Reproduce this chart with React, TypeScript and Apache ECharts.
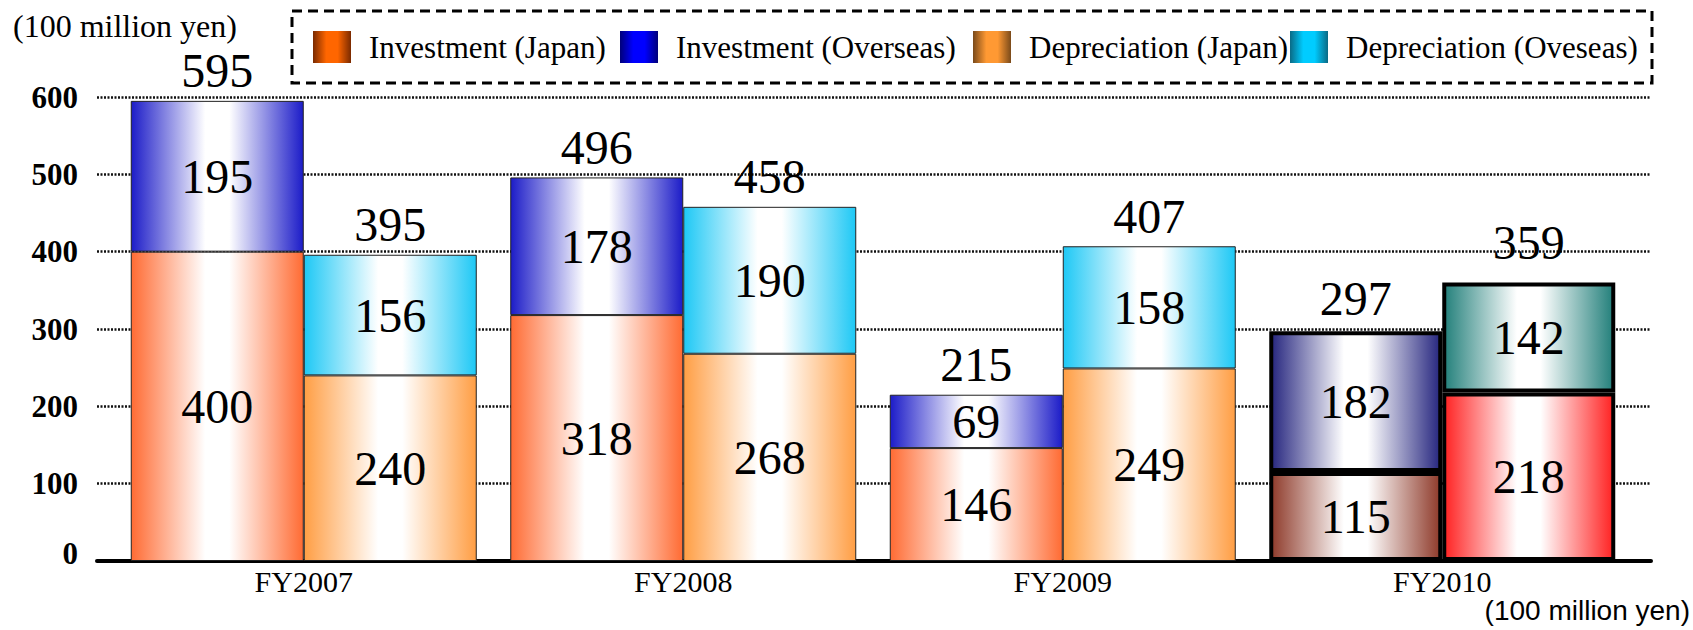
import React, { useEffect, useRef } from "react";
import * as echarts from "echarts";

const categories = ["FY2007", "FY2008", "FY2009", "FY2010"];
const investmentJapan = [400, 318, 146, 115];
const investmentOverseas = [195, 178, 69, 182];
const depreciationJapan = [240, 268, 249, 218];
const depreciationOverseas = [156, 190, 158, 142];
const investmentTotals = [595, 496, 215, 297];
const depreciationTotals = [395, 458, 407, 359];
const seriesNames = [
  "Investment (Japan)",
  "Investment (Overseas)",
  "Depreciation (Japan)",
  "Depreciation (Oveseas)",
];
const unitLabel = "(100 million yen)";

const SERIF = "Liberation Serif";
const SANS = "Liberation Sans";

const edgeColors = ["#FF6B33", "#1C1CC8", "#FF9E44", "#1EC8F5"];
const fy2010Colors = ["#8E3A2A", "#26267F", "#FF2222", "#23807B"];
const legendEdge = ["#7A2A00", "#00007A", "#7A4A1A", "#0A6A85"];
const legendMid = ["#FF6600", "#0000FF", "#FF9933", "#00CCFF"];
const legendX = [313, 620, 973, 1290];

const barGrad = (edge: string) => ({
  type: "linear",
  x: 0,
  y: 0,
  x2: 1,
  y2: 0,
  colorStops: [
    { offset: 0, color: edge },
    { offset: 0.43, color: "#ffffff" },
    { offset: 0.57, color: "#ffffff" },
    { offset: 1, color: edge },
  ],
});

const swatchGrad = (edge: string, mid: string) => ({
  type: "linear",
  x: 0,
  y: 0,
  x2: 1,
  y2: 0,
  colorStops: [
    { offset: 0, color: edge },
    { offset: 0.35, color: mid },
    { offset: 0.65, color: mid },
    { offset: 1, color: edge },
  ],
});

const valueSets = [investmentJapan, investmentOverseas, depreciationJapan, depreciationOverseas];
const stacks = ["inv", "inv", "dep", "dep"];

export default function App() {
  const ref = useRef<HTMLDivElement>(null);

  useEffect(() => {
    if (!ref.current) return;
    const chart = echarts.init(ref.current, undefined, { renderer: "svg" });

    const labelStyle = {
      fontSize: 48,
      fontFamily: SERIF,
      fontWeight: "normal",
      color: "#000",
    };

    const mainSeries = valueSets.map((vals, s) => ({
      name: seriesNames[s],
      type: "bar",
      stack: stacks[s],
      xAxisIndex: 1,
      yAxisIndex: 1,
      barWidth: 173,
      barGap: "0%",
      itemStyle: { color: barGrad(edgeColors[s]), borderColor: "#222", borderWidth: 1 },
      label: { show: true, position: "inside", ...labelStyle },
      data: vals.map((v, i) =>
        i === 3
          ? {
              value: v,
              itemStyle: { color: barGrad(fy2010Colors[s]), borderColor: "#000", borderWidth: 4 },
            }
          : v
      ),
    }));

    const totalSeries = (stack: string, totals: number[], lastDistance: number) => ({
      name: stack + "Total",
      type: "bar",
      stack,
      xAxisIndex: 1,
      yAxisIndex: 1,
      barWidth: 173,
      barGap: "0%",
      silent: true,
      itemStyle: { color: "rgba(0,0,0,0)", borderWidth: 0 },
      label: {
        show: true,
        position: "top",
        distance: 6,
        ...labelStyle,
        formatter: (p: any) => String(totals[p.dataIndex]),
      },
      data: totals.map((_, i) =>
        i === 3 ? { value: 0, label: { distance: lastDistance } } : 0
      ),
    });

    const series = [
      mainSeries[0],
      mainSeries[1],
      totalSeries("inv", investmentTotals, 9),
      mainSeries[2],
      mainSeries[3],
      totalSeries("dep", depreciationTotals, 16),
    ];

    chart.setOption({
      animation: false,
      backgroundColor: "#ffffff",
      textStyle: { fontFamily: SERIF, color: "#000" },
      grid: [
        { left: 97, right: 42, top: 97, bottom: 69 },
        { left: 114, right: 61, top: 97, bottom: 69 },
      ],
      xAxis: [
        {
          type: "category",
          gridIndex: 0,
          data: categories,
          offset: 2,
          axisLine: { show: true, lineStyle: { color: "#000", width: 4 } },
          axisTick: { show: false },
          axisLabel: { show: false },
          splitLine: { show: false },
        },
        {
          type: "category",
          gridIndex: 1,
          data: categories,
          axisLine: { show: false },
          axisTick: { show: false },
          axisLabel: { fontSize: 30, fontFamily: SERIF, color: "#000", margin: 5 },
        },
      ],
      yAxis: [
        {
          type: "value",
          gridIndex: 0,
          min: 0,
          max: 600,
          interval: 100,
          axisLine: { show: false },
          axisTick: { show: false },
          splitLine: { show: true, lineStyle: { color: "#111", width: 2.5, type: [2, 1.5] } },
          axisLabel: {
            margin: 19,
            fontSize: 31,
            fontWeight: "bold",
            fontFamily: SERIF,
            color: "#000",
            formatter: (v: number) => (v === 0 ? "{z|0}" : String(v)),
            rich: {
              z: { fontSize: 31, fontWeight: "bold", fontFamily: SERIF, color: "#000", padding: [0, 0, 16, 0] },
            },
          },
        },
        {
          type: "value",
          gridIndex: 1,
          min: 0,
          max: 600,
          interval: 100,
          show: false,
          splitLine: { show: false },
        },
      ],
      legend: seriesNames.map((n, i) => ({
        data: [{ name: n, itemStyle: { color: swatchGrad(legendEdge[i], legendMid[i]), borderWidth: 0 } }],
        left: legendX[i],
        top: 31,
        padding: 0,
        itemGap: 0,
        itemWidth: 38,
        itemHeight: 32,
        icon: "rect",
        selectedMode: false,
        textStyle: { fontSize: 31, fontFamily: SERIF, color: "#000", padding: [0, 0, 0, 13] },
      })),
      graphic: [
        {
          type: "rect",
          shape: { x: 292, y: 11, width: 1360, height: 72 },
          style: { fill: "transparent", stroke: "#000", lineWidth: 3, lineDash: [10, 6] },
        },
        {
          type: "text",
          x: 13,
          y: 26,
          style: {
            text: unitLabel,
            font: "32px 'Liberation Serif'",
            fontSize: 32,
            fontFamily: SERIF,
            fill: "#000",
            align: "left",
            verticalAlign: "middle",
          },
        },
        {
          type: "text",
          x: 1690,
          y: 610,
          style: {
            text: unitLabel,
            font: "28px 'Liberation Sans'",
            fontSize: 28,
            fontFamily: SANS,
            fill: "#000",
            align: "right",
            verticalAlign: "middle",
          },
        },
      ],
      series,
    });

    return () => chart.dispose();
  }, []);

  return (
    <div
      ref={ref}
      style={{ position: "absolute", left: 0, top: 0, width: 1693, height: 630 }}
    />
  );
}
